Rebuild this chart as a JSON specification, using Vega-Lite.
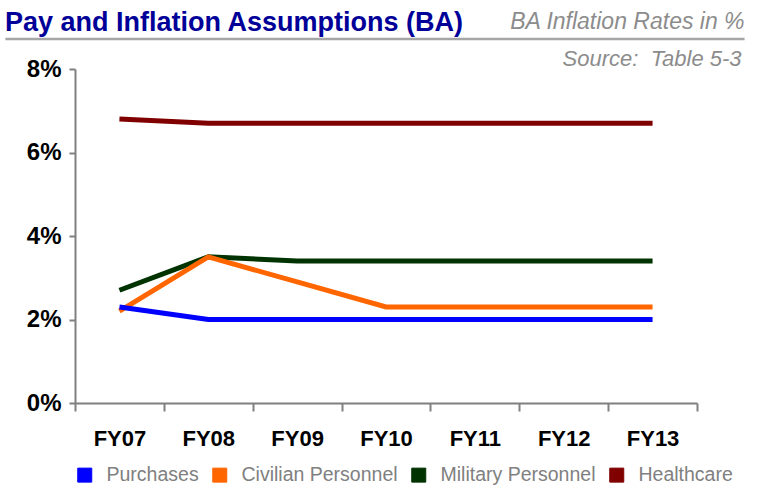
{
  "$schema": "https://vega.github.io/schema/vega-lite/v6.json",
  "width": 622,
  "height": 334,
  "autosize": {"type": "none"},
  "padding": {"left": 75, "top": 69, "right": 61, "bottom": 86},
  "background": "white",
  "config": {"view": {"stroke": null}, "font": "Liberation Sans"},
  "title": {
    "text": "Pay and Inflation Assumptions (BA)",
    "anchor": "start",
    "frame": "group",
    "dx": -70,
    "offset": -47,
    "baseline": "alphabetic",
    "fontSize": 27,
    "font": "Liberation Sans",
    "fontWeight": "bold",
    "color": "#000099"
  },
  "data": {
    "values": [
      {"year": "FY07", "series": "Healthcare", "rate": 6.8},
      {"year": "FY08", "series": "Healthcare", "rate": 6.7},
      {"year": "FY09", "series": "Healthcare", "rate": 6.7},
      {"year": "FY10", "series": "Healthcare", "rate": 6.7},
      {"year": "FY11", "series": "Healthcare", "rate": 6.7},
      {"year": "FY12", "series": "Healthcare", "rate": 6.7},
      {"year": "FY13", "series": "Healthcare", "rate": 6.7},
      {"year": "FY07", "series": "Military Personnel", "rate": 2.7},
      {"year": "FY08", "series": "Military Personnel", "rate": 3.5},
      {"year": "FY09", "series": "Military Personnel", "rate": 3.4},
      {"year": "FY10", "series": "Military Personnel", "rate": 3.4},
      {"year": "FY11", "series": "Military Personnel", "rate": 3.4},
      {"year": "FY12", "series": "Military Personnel", "rate": 3.4},
      {"year": "FY13", "series": "Military Personnel", "rate": 3.4},
      {"year": "FY07", "series": "Civilian Personnel", "rate": 2.2},
      {"year": "FY08", "series": "Civilian Personnel", "rate": 3.5},
      {"year": "FY09", "series": "Civilian Personnel", "rate": 2.9},
      {"year": "FY10", "series": "Civilian Personnel", "rate": 2.3},
      {"year": "FY11", "series": "Civilian Personnel", "rate": 2.3},
      {"year": "FY12", "series": "Civilian Personnel", "rate": 2.3},
      {"year": "FY13", "series": "Civilian Personnel", "rate": 2.3},
      {"year": "FY07", "series": "Purchases", "rate": 2.3},
      {"year": "FY08", "series": "Purchases", "rate": 2.0},
      {"year": "FY09", "series": "Purchases", "rate": 2.0},
      {"year": "FY10", "series": "Purchases", "rate": 2.0},
      {"year": "FY11", "series": "Purchases", "rate": 2.0},
      {"year": "FY12", "series": "Purchases", "rate": 2.0},
      {"year": "FY13", "series": "Purchases", "rate": 2.0}
    ]
  },
  "layer": [
    {
      "mark": {"type": "line", "strokeWidth": 5, "clip": false},
      "encoding": {
        "x": {
          "field": "year",
          "type": "nominal",
          "sort": ["FY07", "FY08", "FY09", "FY10", "FY11", "FY12", "FY13"],
          "scale": {"paddingInner": 0, "paddingOuter": 0},
          "axis": {
            "title": null,
            "labelAngle": 0,
            "labelFont": "Liberation Sans",
            "labelFontSize": 22,
            "labelFontWeight": "bold",
            "labelColor": "black",
            "labelPadding": 17,
            "domainColor": "#808080",
            "domainWidth": 2,
            "tickColor": "#808080",
            "tickWidth": 2,
            "tickSize": 8,
            "tickBand": "extent"
          }
        },
        "y": {
          "field": "rate",
          "type": "quantitative",
          "scale": {"domain": [0, 8]},
          "axis": {
            "title": null,
            "values": [0, 2, 4, 6, 8],
            "labelExpr": "datum.value + '%'",
            "labelFont": "Liberation Sans",
            "labelFontSize": 24,
            "labelFontWeight": "bold",
            "labelColor": "black",
            "labelPadding": 8,
            "grid": false,
            "domainColor": "#808080",
            "domainWidth": 2,
            "tickColor": "#808080",
            "tickWidth": 2,
            "tickSize": 6
          }
        },
        "color": {
          "field": "series",
          "type": "nominal",
          "scale": {
            "domain": ["Purchases", "Civilian Personnel", "Military Personnel", "Healthcare"],
            "range": ["#0000FF", "#FF6600", "#003300", "#800000"]
          },
          "legend": {
            "title": null,
            "orient": "bottom",
            "direction": "horizontal",
            "offset": 16,
            "symbolType": "square",
            "symbolSize": 196,
            "symbolStrokeWidth": 1,
            "labelFont": "Liberation Sans",
            "labelFontSize": 19.5,
            "labelColor": "#808080",
            "labelLimit": 300,
            "labelOffset": 12,
            "columnPadding": 11,
            "encode": {
              "symbols": {
                "update": {
                  "fill": {"scale": "color", "field": "value"},
                  "stroke": {"value": "#a0a0a0"},
                  "strokeWidth": {"value": 1}
                }
              }
            }
          }
        }
      }
    },
    {
      "data": {"values": [{}]},
      "mark": {"type": "rule", "color": "#a6a6a6", "strokeWidth": 2.5, "xOffset": -114, "x2Offset": 92, "yOffset": -30, "clip": false},
      "encoding": {
        "x": {"datum": "FY07"},
        "x2": {"datum": "FY13"},
        "y": {"datum": 8}
      }
    },
    {
      "data": {"values": [{}]},
      "mark": {"type": "text", "align": "right", "baseline": "alphabetic", "dx": 92, "dy": -40, "font": "Liberation Sans", "fontSize": 23, "fontStyle": "italic", "color": "#8c8c8c"},
      "encoding": {
        "x": {"datum": "FY13"},
        "y": {"datum": 8},
        "text": {"value": "BA Inflation Rates in %"}
      }
    },
    {
      "data": {"values": [{}]},
      "mark": {"type": "text", "align": "right", "baseline": "alphabetic", "dx": 89, "dy": -3, "font": "Liberation Sans", "fontSize": 22, "fontStyle": "italic", "color": "#8c8c8c"},
      "encoding": {
        "x": {"datum": "FY13"},
        "y": {"datum": 8},
        "text": {"value": "Source:\u00a0 Table 5-3"}
      }
    }
  ]
}
